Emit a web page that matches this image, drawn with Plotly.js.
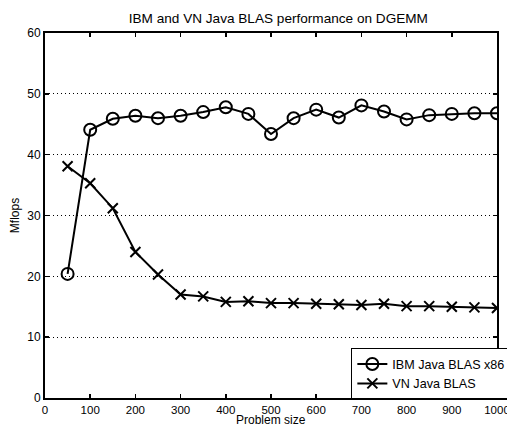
<!DOCTYPE html>
<html><head><meta charset="utf-8">
<script src="https://cdn.plot.ly/plotly-3.0.1.min.js"></script>
<style>html,body{margin:0;padding:0;background:#fff}#c{width:507px;height:428px}</style>
</head><body><div id="c"></div>
<script>
const problemSize = [50,100,150,200,250,300,350,400,450,500,550,600,650,700,750,800,850,900,950,1000];
const ibmMflops = [20.4,44.1,45.9,46.4,46.0,46.4,47.0,47.8,46.7,43.4,46.0,47.4,46.1,48.1,47.1,45.8,46.5,46.7,46.8,46.8];
const vnMflops = [38.1,35.3,31.2,24.0,20.3,17.0,16.7,15.8,15.9,15.6,15.6,15.5,15.4,15.3,15.5,15.1,15.1,15.0,14.9,14.8];
const xTicks = [0,100,200,300,400,500,600,700,800,900,1000];
const yTicks = [0,10,20,30,40,50,60];
const xTitle = 'Problem size';

const font = {family:'Liberation Sans, Arial, sans-serif', color:'#000', size:12};
const traces = [
  {x:problemSize, y:ibmMflops, name:'IBM Java BLAS x86', mode:'lines+markers',
   line:{color:'#000', width:2}, marker:{symbol:'circle-open', size:12, color:'#000', line:{width:2, color:'#000'}}},
  {x:problemSize, y:vnMflops, name:'VN Java BLAS', mode:'lines+markers',
   line:{color:'#000', width:2}, marker:{symbol:'x-thin-open', size:10, color:'#000', line:{width:2, color:'#000'}}}
];
const layout = {
  width:507, height:428,
  margin:{l:45, r:10, t:33, b:30, autoexpand:false},
  paper_bgcolor:'#fff', plot_bgcolor:'#fff',
  font:font,
  title:{text:'IBM and VN Java BLAS performance on DGEMM', x:0.549, xanchor:'center', y:0.957, yanchor:'middle', font:{family:font.family, size:13.6, color:'#000'}},
  xaxis:{range:[0,1000], tickvals:xTicks, ticktext:xTicks.map(String), ticks:'inside', ticklen:4, tickwidth:1.5, tickcolor:'#000',
    showgrid:false, zeroline:false, showline:true, linecolor:'#000', linewidth:2, mirror:'ticks', ticklabeloverflow:'allow',
    tickfont:{size:11.5}},
  yaxis:{range:[0,60], tickvals:yTicks, ticktext:yTicks.map(String), ticks:'inside', ticklen:4, tickwidth:1.5, tickcolor:'#000',
    showgrid:true, gridcolor:'#000', griddash:'1px,3px', gridwidth:1, zeroline:false, showline:true, linecolor:'#000', linewidth:2, mirror:'ticks',
    title:{text:'Mflops', font:{size:12}, standoff:5}, tickfont:{size:12}},
  annotations:[{text:xTitle, xref:'paper', yref:'paper', x:0.5, y:-0.0822, xanchor:'center', yanchor:'bottom', showarrow:false, borderpad:0, font:{size:12, color:'#000'}}],
  showlegend:true,
  legend:{xref:'container', x:0.692, xanchor:'left', yref:'paper', y:-0.005, yanchor:'bottom', bgcolor:'#fff', bordercolor:'#000', borderwidth:1.5,
    font:{size:12.6}, tracegroupgap:0, itemwidth:30}
};
Plotly.newPlot('c', traces, layout, {displayModeBar:false, staticPlot:true});
</script></body></html>
